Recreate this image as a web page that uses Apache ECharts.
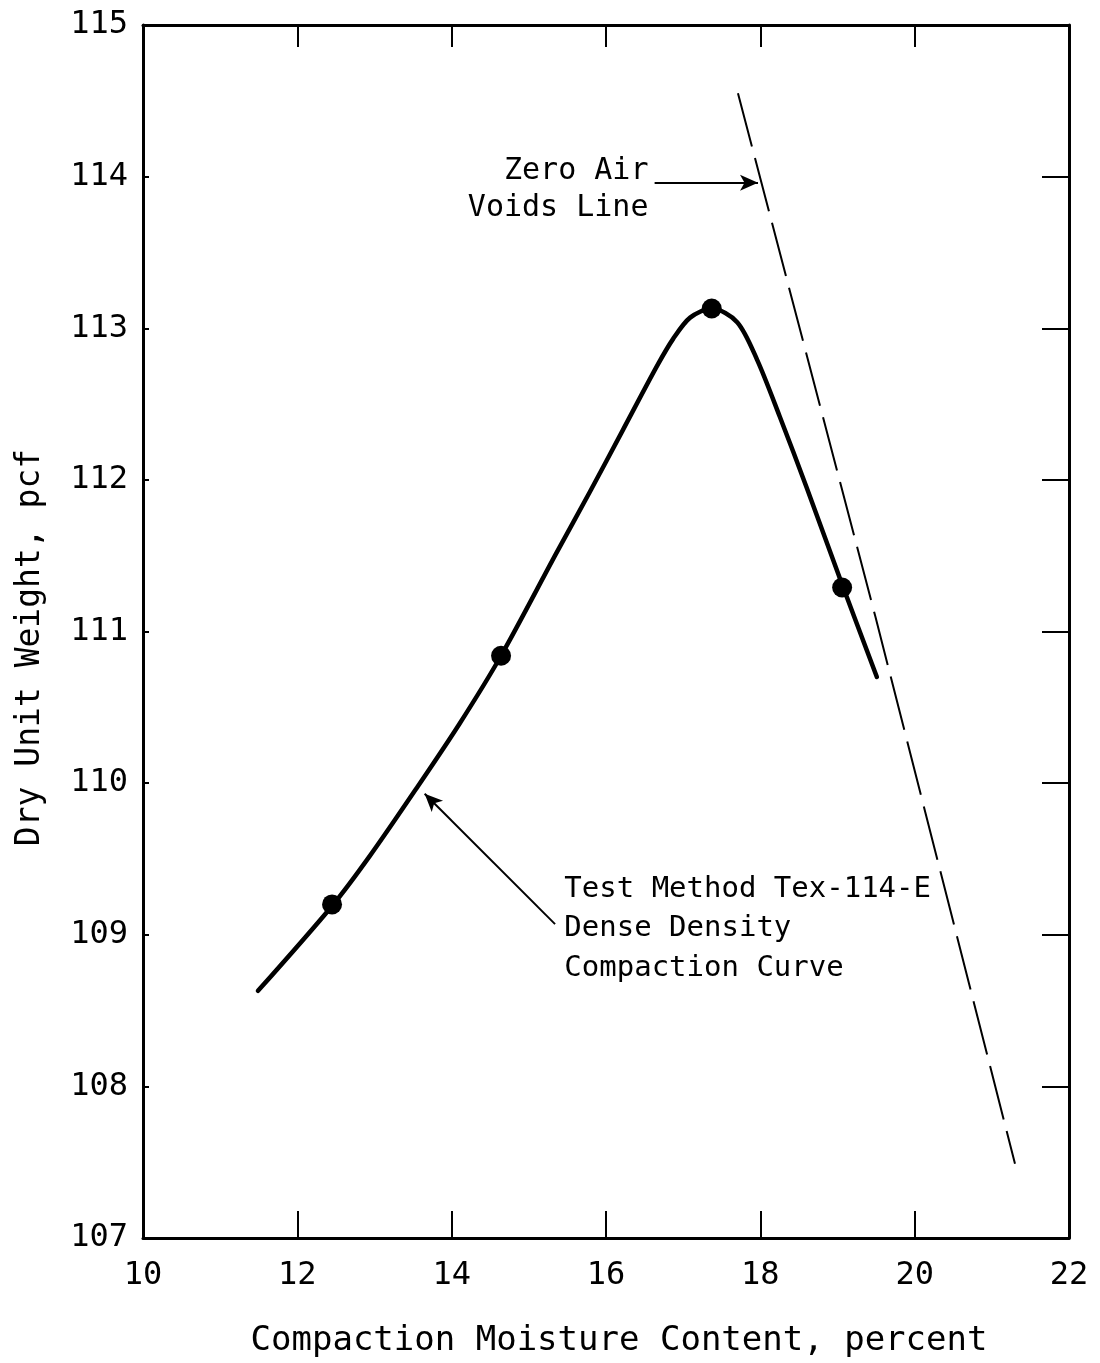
<!DOCTYPE html>
<html>
<head>
<meta charset="utf-8">
<title>Compaction Curve</title>
<script src="https://cdn.jsdelivr.net/npm/echarts@6/dist/echarts.min.js"></script>
<style>
  html, body { margin: 0; padding: 0; background: #fff; }
  #chart { width: 1100px; height: 1363px; }
</style>
</head>
<body>
<div id="chart"></div>
<script>
// Measured compaction test points
const moisture = [12.45, 14.64, 17.37, 19.06];
const dryUnitWeight = [109.2, 110.84, 113.13, 111.29];

// Hand-drawn compaction curve traced through the test points
const curveMoisture = [11.49, 12.45, 12.94, 13.55, 14.10, 14.64, 15.36, 15.79, 16.22, 16.66, 16.87, 17.09, 17.37, 17.70, 17.96, 18.25, 18.60, 19.06, 19.51];
const curveWeight   = [108.63, 109.19, 109.52, 109.97, 110.39, 110.84, 111.52, 111.92, 112.33, 112.75, 112.93, 113.07, 113.13, 113.04, 112.79, 112.42, 111.95, 111.31, 110.70];

// Zero air voids line
const zavMoisture = [17.71, 19.49, 21.30];
const zavWeight   = [114.55, 111.10, 107.49];

// Axis tick labels
const xTickLabels = [10, 12, 14, 16, 18, 20, 22];
const yTickLabels = [107, 108, 109, 110, 111, 112, 113, 114, 115];

// Annotation arrows (data coordinates: [start, end])
const zavArrow = [[16.63, 113.96], [17.97, 113.96]];
const curveArrow = [[15.34, 109.07], [13.65, 109.93]];

const FONT = '"DejaVu Sans Mono", "Liberation Mono", monospace';
const INK = '#000';

const pairs = (xs, ys) => xs.map((x, i) => [x, ys[i]]);

const chart = echarts.init(document.getElementById('chart'), null, { renderer: 'canvas' });

const frameLine = { show: true, lineStyle: { color: INK, width: 3 } };

chart.setOption({
  animation: false,
  backgroundColor: '#fff',
  grid: { left: 143, right: 31, top: 25, bottom: 123, containLabel: false },
  xAxis: [
    {
      type: 'value', position: 'bottom',
      min: xTickLabels[0], max: xTickLabels[xTickLabels.length - 1], interval: 2,
      axisLine: frameLine,
      axisTick: { show: true, inside: true, length: 27, lineStyle: { color: INK, width: 2 } },
      axisLabel: { color: INK, fontFamily: FONT, fontSize: 32, margin: 22 },
      splitLine: { show: false },
      name: 'Compaction Moisture Content, percent',
      nameLocation: 'middle', nameGap: 86,
      nameTextStyle: { color: INK, fontFamily: FONT, fontSize: 34, padding: [0, 0, 0, 26] }
    },
    {
      type: 'value', position: 'top',
      min: xTickLabels[0], max: xTickLabels[xTickLabels.length - 1], interval: 2,
      axisLine: frameLine,
      axisTick: { show: true, inside: true, length: 22, lineStyle: { color: INK, width: 2 } },
      axisLabel: { show: false },
      splitLine: { show: false }
    }
  ],
  yAxis: [
    {
      type: 'value', position: 'left',
      min: yTickLabels[0], max: yTickLabels[yTickLabels.length - 1], interval: 1,
      axisLine: frameLine,
      axisTick: { show: true, inside: true, length: 6, lineStyle: { color: INK, width: 2 } },
      axisLabel: { color: INK, fontFamily: FONT, fontSize: 32, margin: 15 },
      splitLine: { show: false },
      name: 'Dry Unit Weight, pcf',
      nameLocation: 'middle', nameGap: 96,
      nameTextStyle: { color: INK, fontFamily: FONT, fontSize: 33, padding: [0, 32, 0, 0] }
    },
    {
      type: 'value', position: 'right',
      min: yTickLabels[0], max: yTickLabels[yTickLabels.length - 1], interval: 1,
      axisLine: frameLine,
      axisTick: { show: true, inside: true, length: 27, lineStyle: { color: INK, width: 2 } },
      axisLabel: { show: false },
      splitLine: { show: false }
    }
  ],
  series: [
    {
      name: 'Zero Air Voids Line',
      type: 'line',
      data: pairs(zavMoisture, zavWeight),
      showSymbol: false,
      lineStyle: { color: INK, width: 2, type: [55, 12] },
      z: 2
    },
    {
      name: 'Compaction Curve',
      type: 'line',
      data: pairs(curveMoisture, curveWeight),
      smooth: 0.3,
      showSymbol: false,
      lineStyle: { color: INK, width: 4.5, cap: 'round', join: 'round' },
      z: 3,
      markLine: {
        silent: true,
        symbol: ['none', 'arrow'],
        symbolSize: [12, 18],
        lineStyle: { color: INK, width: 2, type: 'solid' },
        label: { show: false },
        data: [
          [{ coord: zavArrow[0] }, { coord: zavArrow[1] }],
          [{ coord: curveArrow[0] }, { coord: curveArrow[1] }]
        ]
      }
    },
    {
      name: 'Test Points',
      type: 'scatter',
      data: pairs(moisture, dryUnitWeight),
      symbol: 'circle',
      symbolSize: 20,
      itemStyle: { color: INK, opacity: 1 },
      z: 4
    }
  ]
});

// Callout text placed from data coordinates
function textAt(coord, lines, align, size, lineHeight) {
  const p = chart.convertToPixel({ xAxisIndex: 0, yAxisIndex: 0 }, coord);
  return {
    type: 'text',
    x: p[0], y: p[1],
    style: {
      text: lines.join('\n'),
      fill: INK,
      font: size + 'px ' + FONT,
      lineHeight: lineHeight,
      align: align,
      verticalAlign: 'top'
    },
    z: 10
  };
}

chart.setOption({
  graphic: [
    textAt([16.55, 114.16], ['Zero Air', 'Voids Line'], 'right', 30, 37),
    textAt([15.46, 109.43], ['Test Method Tex-114-E', 'Dense Density', 'Compaction Curve'], 'left', 29, 39.5)
  ]
});
</script>
</body>
</html>
